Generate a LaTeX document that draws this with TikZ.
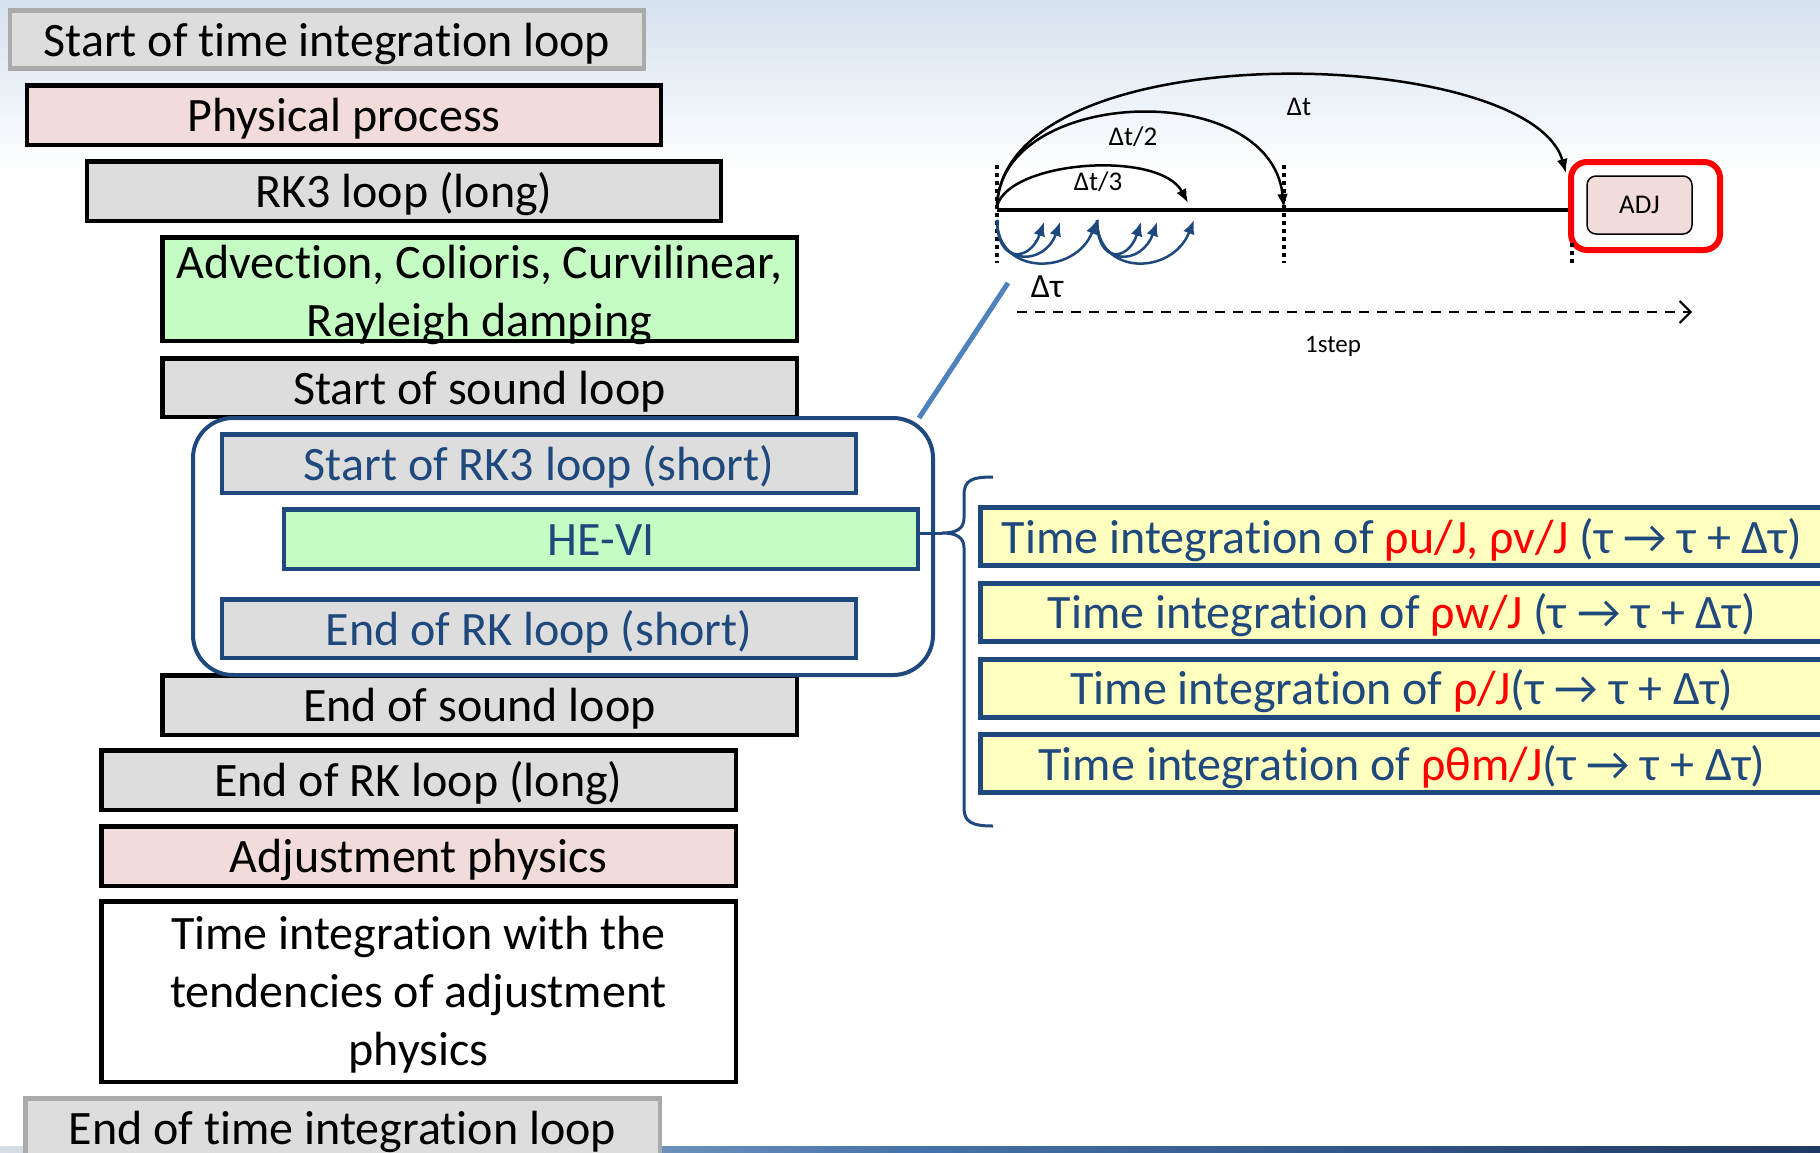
\documentclass[tikz,border=0pt]{standalone}
\usepackage{fontspec}
\setmainfont{Carlito}[Ligatures=NoCommon]
\usetikzlibrary{arrows.meta}
\definecolor{dblue}{RGB}{31,73,125}
\definecolor{lblue}{RGB}{79,129,189}
\definecolor{gfill}{RGB}{221,221,221}
\definecolor{gborder}{RGB}{170,170,170}
\definecolor{pinkf}{RGB}{242,220,219}
\definecolor{greenf}{RGB}{196,252,196}
\definecolor{yellowf}{RGB}{255,255,192}
\definecolor{bgtop}{RGB}{213,225,238}
\definecolor{navy}{RGB}{31,56,100}
\definecolor{bandl}{RGB}{215,222,232}
\begin{document}
\begin{tikzpicture}[x=1pt,y=-1pt,
  bx/.style={draw=black, line width=4.5pt, inner sep=0pt, align=center, font=\fontsize{48}{58}\selectfont},
  one/.style={text height=33pt, text depth=0pt},
  sz/.style 2 args={minimum width=#1pt, minimum height=#2pt},
  grey/.style={bx, fill=gfill},
  greyl/.style={bx, fill=gfill, draw=gborder},
  pinkb/.style={bx, fill=pinkf},
  greenb/.style={bx, fill=greenf},
  whiteb/.style={bx, fill=white},
  inb/.style={draw=dblue, text=dblue},
  txt/.style={bx, draw=none, fill=none},
  ybox/.style={bx, fill=yellowf, draw=dblue, text=dblue, line width=5pt, one, sz={843}{58}},
  lbl/.style={inner sep=0pt, font=\fontsize{27}{32}\selectfont},
  arc/.style={line width=2.5pt, -{Latex[length=14pt,width=11pt]}},
  barc/.style={dblue, line width=2.5pt, -{Latex[length=14pt,width=12pt]}},
  dots/.style={line width=3.5pt, dash pattern=on 4pt off 4pt}
]
\clip (0,0) rectangle (1820,1152);
% background
\fill[white] (0,0) rectangle (1820,1152);
\shade[top color=bgtop, bottom color=white] (0,0) rectangle (1820,175);
\shade[left color=bandl, right color=navy, middle color=lblue!80!navy] (0,1146) rectangle (1820,1152);

% left column
\node[greyl, one, sz={634}{58}] (b1) at (327,39.5) {Start of time integration loop};
\node[pinkb, one, sz={634}{59.5}] (b2) at (344,115) {Physical process};
\node[grey, one, sz={634}{59.5}] (b3) at (404,191) {RK3 loop (long)};
\node[greenb, sz={634.5}{103.5}] (b4) at (479.5,289) {};
\node[txt] (b4t) at (479.5,295) {Advection, Colioris, Curvilinear,\\Rayleigh damping};
\node[grey, one, sz={634.5}{58.5}] (b5) at (479.5,387.5) {Start of sound loop};
\node[grey, one, sz={634.5}{59.5}] (b10) at (479.5,705) {End of sound loop};
\node[grey, one, sz={634.5}{59.5}] (b11) at (418.5,780) {End of RK loop (long)};
\node[pinkb, one, sz={634.5}{59.5}] (b12) at (418.5,856) {Adjustment physics};
\node[whiteb, sz={634.5}{180.5}] (b13) at (418.5,991.5) {};
\node[txt] (b13t) at (418.5,995) {Time integration with the\\tendencies of adjustment\\physics};
\node[greyl, one, sz={634.5}{59.5}] (b14) at (342.5,1128) {End of time integration loop};

% sound loop container
\node[draw=dblue, fill=white, line width=4pt, rounded corners=40pt, minimum width=740pt, minimum height=257pt] (cont) at (563,546.5) {};
\node[grey, inb, one, sz={634}{58.5}] (b7) at (539,463.5) {Start of RK3 loop (short)};
\node[greenb, inb, one, sz={634}{59.5}] (b8) at (601,539) {HE-VI};
\node[grey, inb, one, sz={634}{58.5}] (b9) at (539,628.5) {End of RK loop (short)};

% brace
\coordinate (brtip) at (942,533);
\draw[dblue, line width=3pt] (993,477) .. controls (972,477) and (964,480) .. (964,495) -- (964,518) .. controls (964,529) and (956,533) .. (brtip) .. controls (956,533) and (964,537) .. (964,548) -- (964,808) .. controls (964,822) and (972,826) .. (993,826);
\draw[dblue, line width=3pt] (brtip) -- (brtip -| b8.east);

% yellow boxes
\node[ybox] (y1) at (1402,536.5) {Time integration of \textcolor{red}{ρu/J, ρv/J} (τ → τ + Δτ)};
\node[ybox] (y2) at (1402,612) {Time integration of \textcolor{red}{ρw/J} (τ → τ + Δτ)};
\node[ybox] (y3) at (1402,688) {Time integration of \textcolor{red}{ρ/J}(τ → τ + Δτ)};
\node[ybox] (y4) at (1402,763.5) {Time integration of \textcolor{red}{ρθm/J}(τ → τ + Δτ)};

% timeline
\node[draw=red, line width=6pt, rounded corners=16pt, minimum width=149pt, minimum height=88pt] (adjred) at (1645.5,206) {};
\node[draw=black, fill=pinkf, line width=1.5pt, rounded corners=9pt, minimum width=105pt, minimum height=58pt, lbl] (adj) at (1639.5,205) {ADJ};
\coordinate (t0) at (997,210);
\coordinate (t1) at (1284,210);
\draw[line width=4pt] (t0) -- (t0 -| adjred.west);
\draw[dots] (997,165) -- (997,263);
\draw[dots] (1284,165) -- (1284,263);
\draw[dots] (1572,243) -- (1572,263);

\coordinate (s0) at (997,206);
\coordinate (e3) at (1188,203);
\coordinate (e2) at (1284,208);
\coordinate (e1) at (1566,173);
\draw[arc] (s0) .. controls (1010,160) and (1160,150) .. (e3);
\draw[arc] (s0) .. controls (1000,87) and (1270,77) .. (e2);
\draw[arc] (s0) .. controls (1005,30) and (1530,45) .. (e1);
\node[lbl] (l3) at (1098,182) {Δt/3};
\node[lbl] (l2) at (1133,137) {Δt/2};
\node[lbl] (l1) at (1299,107) {Δt};

\coordinate (g1) at (997,220);
\coordinate (g2) at (1097,220);
\draw[barc] (g1) .. controls (997,264) and (1030,262) .. (1044,222);
\draw[barc] (g1) .. controls (997,268) and (1045,265) .. (1060,222);
\draw[barc] (g1) .. controls (997,276) and (1075,276) .. (g2);
\draw[barc] (g2) .. controls (1097,264) and (1128,262) .. (1141,222);
\draw[barc] (g2) .. controls (1097,268) and (1142,265) .. (1157,222);
\draw[barc] (g2) .. controls (1097,276) and (1172,276) .. (1194,220);

\node[inner sep=0pt, font=\fontsize{34}{40}\selectfont] (dtau) at (1047,287) {Δτ};
\coordinate (ds) at (1017,312);
\coordinate (de) at (1692,312);
\draw[line width=2pt, dash pattern=on 10pt off 8pt, -{Straight Barb[length=11pt,width=22pt,line width=2pt]}] (ds) -- (de);
\node[lbl, font=\fontsize{25}{30}\selectfont] (step) at (1333,346) {1step};

\coordinate (c1) at (919,418);
\coordinate (c2) at (1008,283);
\draw[lblue, line width=5pt] (c1) -- (c2);
\end{tikzpicture}
\end{document}
